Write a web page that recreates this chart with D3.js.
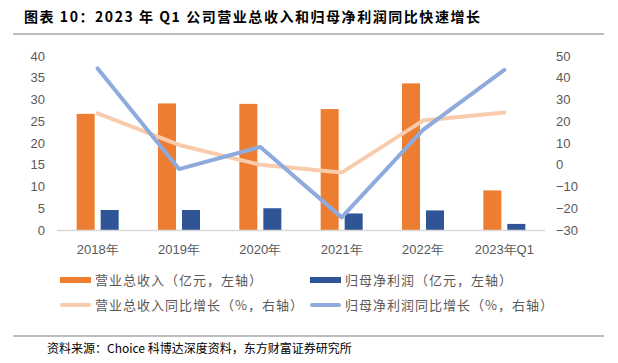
<!DOCTYPE html>
<html>
<head>
<meta charset="utf-8">
<script src="https://cdn.jsdelivr.net/npm/d3@7"></script>
<style>
  body { margin: 0; background: #fff; }
  text { font-family: "Liberation Sans", Arial, sans-serif; }
  .cjk { font-family: "Noto Sans CJK SC", sans-serif; }
</style>
</head>
<body>
<div id="chart"></div>
<script>
var categories = ["2018年", "2019年", "2020年", "2021年", "2022年", "2023年Q1"]
var revenue = [26.7, 29.1, 29.0, 27.8, 33.7, 9.1]
var netProfit = [4.6, 4.6, 5.0, 3.8, 4.5, 1.4]
var revenueGrowth = [23.6, 9.1, 0.0, -3.6, 20.3, 24.0]
var profitGrowth = [44.3, -2.0, 8.2, -24.2, 16.0, 43.6]
var leftTicks = [0, 5, 10, 15, 20, 25, 30, 35, 40]
var rightTicks = [-30, -20, -10, 0, 10, 20, 30, 40, 50]

var W = 618, H = 363

var svg = d3.select("#chart")
  .append("svg")
  .attr("width", W)
  .attr("height", H)

// title
svg.append("text")
  .attr("class", "cjk")
  .attr("x", 24)
  .attr("y", 22)
  .attr("font-size", 14)
  .attr("font-weight", "bold")
  .attr("fill", "#000")
  .attr("textLength", 456)
  .attr("lengthAdjust", "spacing")
  .text("图表 10：2023 年 Q1 公司营业总收入和归母净利润同比快速增长")

svg.append("line")
  .attr("x1", 13).attr("x2", 604)
  .attr("y1", 34).attr("y2", 34)
  .attr("stroke", "#7f7f7f").attr("stroke-width", 1.2)

var x = d3.scaleBand()
  .domain(categories)
  .range([57, 545])

var inner = d3.scaleBand()
  .domain(["rev", "np"])
  .range([-21, 21])
  .paddingInner(0.25)

var yL = d3.scaleLinear().domain([0, 40]).range([230, 56])
var yR = d3.scaleLinear().domain([-30, 50]).range([230, 56])

// left ticks
svg.append("g")
  .selectAll("text")
  .data(leftTicks)
  .enter()
  .append("text")
  .attr("x", 45)
  .attr("y", function (d) { return yL(d) })
  .attr("dy", "0.35em")
  .attr("text-anchor", "end")
  .attr("font-size", 13)
  .attr("fill", "#595959")
  .text(function (d) { return d })

// right ticks
svg.append("g")
  .selectAll("text")
  .data(rightTicks)
  .enter()
  .append("text")
  .attr("x", 556)
  .attr("y", function (d) { return yR(d) })
  .attr("dy", "0.35em")
  .attr("font-size", 13)
  .attr("fill", "#595959")
  .text(function (d) { return d < 0 ? "\u2212" + Math.abs(d) : d })

// bars
var groups = svg.append("g")
  .selectAll("g")
  .data(categories)
  .enter()
  .append("g")
  .attr("transform", function (d) { return "translate(" + (x(d) + x.bandwidth() / 2) + ",0)" })

groups.append("rect")
  .attr("x", inner("rev"))
  .attr("width", inner.bandwidth())
  .attr("y", function (d, i) { return yL(revenue[i]) })
  .attr("height", function (d, i) { return yL(0) - yL(revenue[i]) })
  .attr("fill", "#ED7D31")

groups.append("rect")
  .attr("x", inner("np"))
  .attr("width", inner.bandwidth())
  .attr("y", function (d, i) { return yL(netProfit[i]) })
  .attr("height", function (d, i) { return yL(0) - yL(netProfit[i]) })
  .attr("fill", "#2F5597")

// x axis line
svg.append("line")
  .attr("x1", 57).attr("x2", 545)
  .attr("y1", 230.5).attr("y2", 230.5)
  .attr("stroke", "#d9d9d9").attr("stroke-width", 1.5)

// x labels
svg.append("g")
  .selectAll("text")
  .data(categories)
  .enter()
  .append("text")
  .attr("x", function (d) { return x(d) + x.bandwidth() / 2 })
  .attr("y", 249)
  .attr("dy", "0.35em")
  .attr("text-anchor", "middle")
  .attr("font-size", 13)
  .attr("fill", "#595959")
  .text(function (d) { return d })

// lines
var lineR = function (vals) {
  return d3.line()
    .x(function (d, i) { return x(categories[i]) + x.bandwidth() / 2 })
    .y(function (d) { return yR(d) })(vals)
}

svg.append("path")
  .attr("d", lineR(revenueGrowth))
  .attr("fill", "none")
  .attr("stroke", "#F8CBAD")
  .attr("stroke-width", 4)
  .attr("stroke-linejoin", "round")
  .attr("stroke-linecap", "round")

svg.append("path")
  .attr("d", lineR(profitGrowth))
  .attr("fill", "none")
  .attr("stroke", "#8FAADC")
  .attr("stroke-width", 4)
  .attr("stroke-linejoin", "round")
  .attr("stroke-linecap", "round")

// legend
var legend = [
  { name: "营业总收入（亿元，左轴）", color: "#ED7D31", type: "bar", x: 60, y: 280 },
  { name: "归母净利润（亿元，左轴）", color: "#2F5597", type: "bar", x: 310, y: 280 },
  { name: "营业总收入同比增长（%，右轴）", color: "#F8CBAD", type: "line", x: 60, y: 305 },
  { name: "归母净利润同比增长（%，右轴）", color: "#8FAADC", type: "line", x: 310, y: 305 }
]

legend.forEach(function (l) {
  if (l.type === "bar") {
    svg.append("rect")
      .attr("x", l.x).attr("y", l.y - 3)
      .attr("width", 31).attr("height", 6)
      .attr("fill", l.color)
  } else {
    svg.append("line")
      .attr("x1", l.x + 2).attr("x2", l.x + 29)
      .attr("y1", l.y).attr("y2", l.y)
      .attr("stroke", l.color).attr("stroke-width", 4)
      .attr("stroke-linecap", "round")
  }
  svg.append("text")
    .attr("class", "cjk")
    .attr("x", l.x + 35)
    .attr("y", l.y)
    .attr("dy", "0.35em")
    .attr("font-size", 13)
    .attr("letter-spacing", 1)
    .attr("fill", "#595959")
    .text(l.name)
})

// footer
svg.append("line")
  .attr("x1", 13).attr("x2", 604)
  .attr("y1", 336).attr("y2", 336)
  .attr("stroke", "#7f7f7f").attr("stroke-width", 1.2)

svg.append("text")
  .attr("class", "cjk")
  .attr("x", 47)
  .attr("y", 349)
  .attr("dy", "0.35em")
  .attr("font-size", 12)
  .attr("fill", "#000")
  .text("资料来源：Choice 科博达深度资料，东方财富证券研究所")
</script>
</body>
</html>
